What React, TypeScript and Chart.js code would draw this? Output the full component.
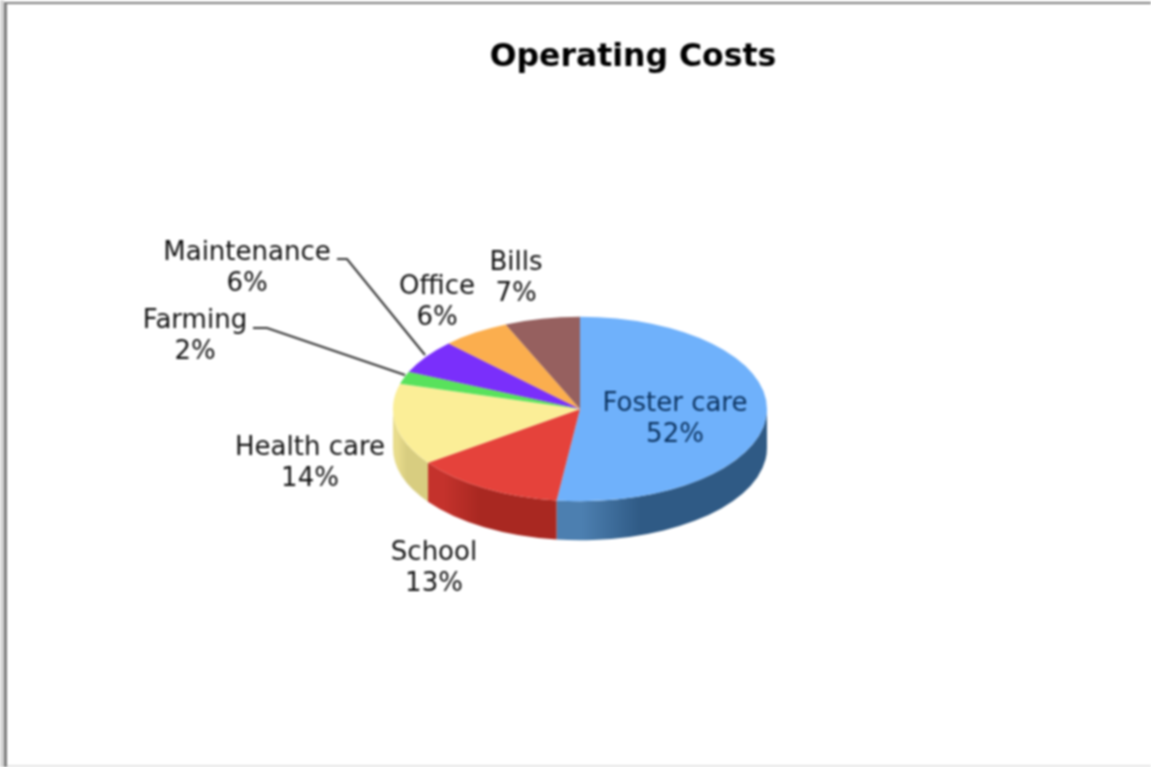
import React, { useEffect, useRef } from "react";
import { Chart, registerables } from "chart.js";

Chart.register(...registerables);

const categories = ["Foster care", "School", "Health care", "Farming", "Maintenance", "Office", "Bills"];
// Each one rounds to the printed percentage.
const shares = [52, 13.1, 14.3, 2.2, 6, 5.9, 6.5];
const sliceColors = ["#6FB1FB", "#E5423B", "#FBEE97", "#58E25C", "#7A2FFB", "#FBAE4E", "#96605F"];
const sideDark = ["#2F5A85", "#A92821", "#D8CD80", "#3FA842", "#5A20BC", "#BC823A", "#704847"];
const sideLight = ["#4C7FB0", "#C4322C", "#E8DC8C", "#4CC04F", "#6A28DC", "#DC9844", "#845454"];

const CENTER_X = 580;
const CENTER_Y = 409;
const RADIUS = 187;
const SQUASH = 0.493;
const DEPTH = 39;
const FONT = '"DejaVu Sans", Verdana, sans-serif';

const labelAnchors = [
  { x: 675, y: 404, color: "#0C3360" },
  { x: 434, y: 553, color: "#111" },
  { x: 310, y: 448, color: "#111" },
  { x: 195, y: 321, color: "#111" },
  { x: 247, y: 253, color: "#111" },
  { x: 437, y: 287, color: "#111" },
  { x: 516, y: 263, color: "#111" },
];
const leaders = [
  { index: 3, pts: [[253, 328], [267, 328], [405, 375]] },
  { index: 4, pts: [[337, 259], [347, 259], [425, 355]] },
];

const pie3d = {
  id: "pie3d",
  beforeDraw(chart: any) {
    const { ctx, width, height } = chart;
    ctx.save();
    ctx.fillStyle = "#fff";
    ctx.fillRect(0, 0, width, height);
    ctx.fillStyle = "#D6D6D6";
    ctx.fillRect(0, 0, 4, height);
    ctx.fillStyle = "#7C7C7C";
    ctx.fillRect(4, 2, 3, height - 2);
    ctx.fillRect(4, 2, width - 4, 2);
    ctx.fillStyle = "#E4E4E4";
    ctx.fillRect(7, height - 2, width - 7, 2);
    ctx.restore();
  },
  beforeDatasetsDraw(chart: any) {
    const { ctx } = chart;
    const arcs = chart.getDatasetMeta(0).data;
    const a0 = arcs[0];
    const dx = CENTER_X - a0.x;
    const place = () => {
      ctx.translate(dx, CENTER_Y);
      ctx.scale(1, SQUASH);
      ctx.translate(0, -a0.y);
    };
    ctx.save();
    arcs.forEach((arc: any, i: number) => {
      const s = Math.max(arc.startAngle, 0);
      const e = Math.min(arc.endAngle, Math.PI);
      if (e <= s) return;
      const r = arc.outerRadius;
      const x1 = arc.x + dx + r * Math.cos(s);
      const x2 = arc.x + dx + r * Math.cos(e);
      const g = ctx.createLinearGradient(x2, 0, x1, 0);
      g.addColorStop(0, sideLight[i]);
      g.addColorStop(0.12, sideLight[i]);
      g.addColorStop(0.4, sideDark[i]);
      g.addColorStop(1, sideDark[i]);
      ctx.beginPath();
      ctx.save();
      place();
      ctx.arc(arc.x, arc.y, r, s, e);
      ctx.restore();
      ctx.save();
      ctx.translate(0, DEPTH);
      place();
      ctx.arc(arc.x, arc.y, r, e, s, true);
      ctx.restore();
      ctx.closePath();
      ctx.fillStyle = g;
      ctx.fill();
    });
    ctx.restore();
    ctx.save();
    place();
  },
  afterDatasetsDraw(chart: any) {
    const { ctx } = chart;
    ctx.restore();
    ctx.save();
    ctx.strokeStyle = "#333";
    ctx.lineWidth = 2;
    leaders.forEach((l) => {
      ctx.beginPath();
      l.pts.forEach((p, k) => (k ? ctx.lineTo(p[0], p[1]) : ctx.moveTo(p[0], p[1])));
      ctx.stroke();
    });
    ctx.font = `26px ${FONT}`;
    ctx.textAlign = "center";
    ctx.textBaseline = "middle";
    categories.forEach((name, i) => {
      const a = labelAnchors[i];
      ctx.fillStyle = a.color;
      ctx.fillText(name, a.x, a.y);
      ctx.fillText(`${Math.round(shares[i])}%`, a.x, a.y + 31);
    });
    ctx.restore();
  },
};

export default function App() {
  const ref = useRef<HTMLCanvasElement>(null);
  useEffect(() => {
    document.body.style.margin = "0";
    const chart = new Chart(ref.current!, {
      type: "pie",
      data: {
        labels: categories,
        datasets: [{ data: shares, backgroundColor: sliceColors, borderWidth: 0 }],
      },
      options: {
        animation: false,
        responsive: false,
        devicePixelRatio: 1,
        radius: RADIUS,
        rotation: 0,
        layout: { padding: { left: 115, top: 39 } },
        plugins: {
          legend: { display: false },
          tooltip: { enabled: false },
          title: {
            display: true,
            text: "Operating Costs",
            color: "#000",
            font: { family: FONT, size: 31.5, weight: "bold" },
            padding: 0,
          },
        },
      } as any,
      plugins: [pie3d],
    });
    return () => chart.destroy();
  }, []);
  return (
    <div style={{ position: "absolute", left: 0, top: 0, width: 1151, height: 767, overflow: "hidden" }}>
      <canvas ref={ref} width={1151} height={767} style={{ display: "block", filter: "blur(0.9px)" }} />
    </div>
  );
}
